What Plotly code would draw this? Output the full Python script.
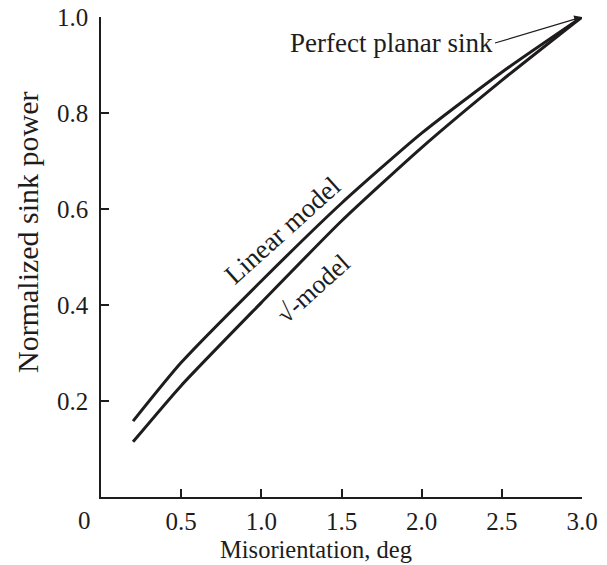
import plotly.graph_objects as go

# Data
misorientation = [0.2, 0.5, 1.0, 1.5, 2.0, 2.5, 3.0]
linear_model = [0.158, 0.28, 0.45, 0.612, 0.758, 0.885, 1.0]
sqrt_model = [0.115, 0.232, 0.405, 0.575, 0.728, 0.868, 1.0]

x_tick_vals = [0.5, 1.0, 1.5, 2.0, 2.5, 3.0]
x_tick_text = ["0.5", "1.0", "1.5", "2.0", "2.5", "3.0"]
y_tick_vals = [0.2, 0.4, 0.6, 0.8, 1.0]
y_tick_text = ["0.2", "0.4", "0.6", "0.8", "1.0"]
origin_label = "0"

x_title = "Misorientation, deg"
y_title = "Normalized sink power"
label_linear = "Linear model"
label_sqrt = "√-model"
label_planar = "Perfect planar sink"

INK = "#1e1c1c"
FONT = "Liberation Serif, Times New Roman, serif"

fig = go.Figure()
fig.add_trace(go.Scatter(x=misorientation, y=linear_model, mode="lines",
                         line=dict(color=INK, width=3, shape="spline", smoothing=0.6),
                         showlegend=False, hoverinfo="skip"))
fig.add_trace(go.Scatter(x=misorientation, y=sqrt_model, mode="lines",
                         line=dict(color=INK, width=3, shape="spline", smoothing=0.6),
                         showlegend=False, hoverinfo="skip"))

axis_common = dict(showgrid=False, zeroline=False, showline=True, linecolor=INK,
                   linewidth=1.5, ticks="inside", ticklen=8, tickwidth=1.5,
                   tickcolor=INK, tickfont=dict(family=FONT, size=25, color=INK),
                   automargin=False)

fig.update_xaxes(range=[0, 3.0], tickmode="array", tickvals=x_tick_vals,
                 ticktext=x_tick_text, ticklabelstandoff=1, **axis_common)
fig.update_yaxes(range=[0, 1.0], tickmode="array", tickvals=y_tick_vals,
                 ticktext=y_tick_text, ticklabelstandoff=6, **axis_common)

annotations = [
    dict(x=0, y=0, xref="x", yref="y", text=origin_label, showarrow=False,
         xanchor="right", yanchor="middle", xshift=-8, yshift=-23,
         font=dict(family=FONT, size=25, color=INK)),
    dict(x=316, y=549, xref="paper", yref="paper", text=x_title, showarrow=False,
         xanchor="center", yanchor="middle",
         font=dict(family=FONT, size=24.5, color=INK)),
    dict(x=28, y=232, xref="paper", yref="paper", text=y_title, showarrow=False,
         xanchor="center", yanchor="middle",
         textangle=-90, font=dict(family=FONT, size=30, color=INK)),
    dict(x=1.135, y=0.556, xref="x", yref="y", text=label_linear, showarrow=False,
         xanchor="center", yanchor="middle",
         textangle=-42, font=dict(family=FONT, size=27, color=INK)),
    dict(x=1.325, y=0.435, xref="x", yref="y", text=label_sqrt, showarrow=False,
         xanchor="center", yanchor="middle",
         textangle=-42, font=dict(family=FONT, size=26, color=INK)),
    dict(x=3.0, y=1.0, xref="x", yref="y", text=label_planar, showarrow=True,
         ax=-87, ay=26, xanchor="right", yanchor="middle",
         arrowhead=2, arrowsize=1.3, arrowwidth=1.2, arrowcolor=INK,
         font=dict(family=FONT, size=27, color=INK)),
]

# convert pixel positions of paper annotations to paper fractions
W, H = 607, 565
L, R, T, B = 101, 25, 17, 68
pw, ph = W - L - R, H - T - B
for a in annotations:
    if a["xref"] == "paper":
        a["x"] = (a["x"] - L) / pw
        a["y"] = (H - B - a["y"]) / ph

fig.update_layout(width=W, height=H, margin=dict(l=L, r=R, t=T, b=B, autoexpand=False),
                  plot_bgcolor="white", paper_bgcolor="white",
                  annotations=annotations)

fig.write_html("out.html", config={"displayModeBar": False},
               post_script="document.body.style.margin='0';document.body.style.padding='0';"
                           "document.documentElement.style.overflow='hidden';")
